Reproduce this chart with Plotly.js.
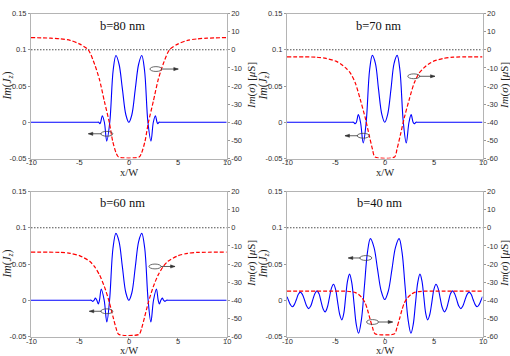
<!DOCTYPE html>
<html>
<head>
<meta charset="utf-8">
<script src="https://cdn.plot.ly/plotly-3.0.1.min.js"></script>
<style>
  html, body { margin: 0; padding: 0; background: #fff; }
  #myPlot { width: 510px; height: 356px; }
</style>
</head>
<body>
<div id="myPlot"></div>
<script>
// tick values / labels (MATLAB style, plain hyphen)
const xTicks = [-10, -5, 0, 5, 10];
const xTickText = ['-10', '-5', '0', '5', '10'];
const jTicks = [-0.05, 0, 0.05, 0.1, 0.15];
const jTickText = ['-0.05', '0', '0.05', '0.1', '0.15'];
const sTicks = [-60, -50, -40, -30, -20, -10, 0, 10, 20];
const sTickText = ['-60', '-50', '-40', '-30', '-20', '-10', '0', '10', '20'];

const bLabels = ['b=80 nm', 'b=70 nm', 'b=60 nm', 'b=40 nm'];

// dotted reference line, Im(sigma) = 0
const refX = [-10, 10];
const refY = [0, 0];

// b = 80 nm
const j80X = [-10, -3.3, -3.08, -2.97, -2.88, -2.71, -2.5, -2.26, -1.95, -1.6, -1.32, -1.0, -0.66, -0.3, 0,
  0.3, 0.66, 1.0, 1.32, 1.6, 1.95, 2.26, 2.5, 2.71, 2.88, 2.97, 3.08, 3.3, 10];
const j80Y = [0, 0, 0, -0.002, 0, 0.009, 0, -0.026, 0, 0.072, 0.092, 0.080, 0.046, 0.010, 0,
  0.010, 0.046, 0.080, 0.092, 0.072, 0, -0.026, 0, 0.009, 0, -0.002, 0, 0, 0];
const s80X = [-10, -8, -7, -6, -5, -4.15, -3.5, -3.0, -2.5, -2.0, -1.65, -1.3, -1.05,
  1.05, 1.3, 1.65, 2.0, 2.5, 3.0, 3.5, 4.15, 5, 6, 7, 8, 10];
const s80Y = [6.7, 6.4, 6.0, 5.2, 3.1, 0, -8, -16.5, -28.5, -40, -50.5, -57, -59.2,
  -59.2, -57, -50.5, -40, -28.5, -16.5, -8, 0, 3.1, 5.2, 6.0, 6.4, 6.7];

// b = 70 nm
const j70X = [-10, -3.4, -3.2, -3.02, -2.9, -2.7, -2.48, -2.2, -1.9, -1.55, -1.27, -0.95, -0.64, -0.3, 0,
  0.3, 0.64, 0.95, 1.27, 1.55, 1.9, 2.2, 2.48, 2.7, 2.9, 3.02, 3.2, 3.4, 10];
const j70Y = [0, 0, 0, -0.002, 0, 0.0105, 0, -0.0285, 0, 0.072, 0.0923, 0.081, 0.046, 0.011, 0,
  0.011, 0.046, 0.081, 0.0923, 0.072, 0, -0.0285, 0, 0.0105, 0, -0.002, 0, 0, 0];
const s70X = [-10, -7, -6, -5, -4.5, -4, -3.5, -3, -2.5, -2, -1.6, -1.25, -1.0,
  1.0, 1.25, 1.6, 2, 2.5, 3, 3.5, 4, 4.5, 5, 6, 7, 10];
const s70Y = [-3.9, -4.1, -4.8, -6.3, -7.8, -10, -13, -18.5, -27.5, -37.5, -47, -55, -59.2,
  -59.2, -55, -47, -37.5, -27.5, -18.5, -13, -10, -7.8, -6.3, -4.8, -4.1, -3.9];

// b = 60 nm
const j60X = [-10, -4.1, -3.85, -3.68, -3.55, -3.42, -3.27, -3.12, -3.0, -2.82, -2.52, -2.25, -1.97, -1.62, -1.32, -1.0, -0.66, -0.3, 0,
  0.3, 0.66, 1.0, 1.32, 1.62, 1.97, 2.25, 2.52, 2.82, 3.0, 3.12, 3.27, 3.42, 3.55, 3.68, 3.85, 4.1, 10];
const j60Y = [0, 0, 0, -0.0015, 0, 0.003, 0, -0.005, 0, 0.0155, 0, -0.030, 0, 0.072, 0.0923, 0.081, 0.046, 0.010, 0,
  0.010, 0.046, 0.081, 0.0923, 0.072, 0, -0.030, 0, 0.0155, 0, -0.005, 0, 0.003, 0, -0.0015, 0, 0, 0];
const s60X = [-10, -7, -6, -5, -4, -3.5, -3, -2.5, -2, -1.6, -1.3, -1.05,
  1.05, 1.3, 1.6, 2, 2.5, 3, 3.5, 4, 5, 6, 7, 10];
const s60Y = [-13.5, -13.6, -14.1, -15.5, -18.5, -21.5, -26, -32.5, -41, -49.5, -55.5, -58.8,
  -58.8, -55.5, -49.5, -41, -32.5, -26, -21.5, -18.5, -15.5, -14.1, -13.6, -13.5];

// b = 40 nm
const j40X = [-10, -9.85, -9.65, -9.45, -9.25, -9.04, -8.84, -8.63, -8.42, -8.2, -7.99, -7.78, -7.57, -7.36, -7.14,
  -6.93, -6.72, -6.52, -6.31, -6.1, -5.89, -5.67, -5.46, -5.24, -5.03, -4.82, -4.6, -4.39, -4.19, -4.0, -3.8,
  -3.6, -3.37, -3.14, -2.91, -2.68, -2.38, -2.075, -1.77, -1.47, -1.1, -0.74, -0.37, 0,
  0.37, 0.74, 1.1, 1.47, 1.77, 2.075, 2.38, 2.68, 2.91, 3.14, 3.37, 3.6, 3.8, 4.0, 4.19, 4.39,
  4.6, 4.82, 5.03, 5.24, 5.46, 5.67, 5.89, 6.1, 6.31, 6.52, 6.72, 6.93, 7.14, 7.36, 7.57, 7.78,
  7.99, 8.2, 8.42, 8.63, 8.84, 9.04, 9.25, 9.45, 9.65, 9.85, 10];
const j40Y = [0.005, 0, -0.006, -0.009, -0.006, 0.001, 0.0082, 0.0112, 0.008, 0, -0.008, -0.0115, -0.0079, 0.0008, 0.0094,
  0.013, 0.0088, -0.0015, -0.0118, -0.016, -0.0104, 0.003, 0.0164, 0.022, 0.015, -0.0025, -0.020, -0.027, -0.018, 0.0045, 0.027,
  0.036, 0.024, -0.005, -0.0336, -0.0455, -0.026, 0.020, 0.066, 0.085, 0.073, 0.043, 0.013, 0.001,
  0.013, 0.043, 0.073, 0.085, 0.066, 0.020, -0.026, -0.0455, -0.0336, -0.005, 0.024, 0.036, 0.027, 0.0045, -0.018, -0.027,
  -0.020, -0.0025, 0.015, 0.022, 0.0164, 0.003, -0.0104, -0.016, -0.0118, -0.0015, 0.0088, 0.013, 0.0094, 0.0008, -0.0079, -0.0115,
  -0.008, 0, 0.008, 0.0112, 0.0082, 0.001, -0.006, -0.009, -0.006, 0, 0.005];
const s40X = [-10, -4, -3.5, -3, -2.7, -2.35, -2, -1.75, -1.5, -1.25, -1.0,
  1.0, 1.25, 1.5, 1.75, 2, 2.35, 2.7, 3, 3.5, 4, 10];
const s40Y = [-35, -35, -35.2, -35.8, -36.7, -38.5, -41.5, -45.5, -50.5, -55, -58.5,
  -58.5, -55, -50.5, -45.5, -41.5, -38.5, -36.7, -35.8, -35.2, -35, -35];

const jxSets = [j80X, j70X, j60X, j40X];
const jySets = [j80Y, j70Y, j60Y, j40Y];
const sxSets = [s80X, s70X, s60X, s40X];
const sySets = [s80Y, s70Y, s60Y, s40Y];

// marker ellipses + arrows: [ellipse cx, cy(left axis), arrow tip x, arrow length px]
const bluePointer = [[-2.25, -0.0159, -4.14, 13], [-2.2, -0.0186, -4.07, 13], [-2.25, -0.0152, -4.04, 12], [-1.94, 0.0583, -3.73, 12]];
const redPointer = [[2.77, 0.0734, 5.05, 16], [2.97, 0.0634, 5.14, 16], [2.67, 0.0466, 4.72, 14], [-1.25, -0.030, 0.81, 14]];
const labelPos = [[-0.6, 0.1328], [-0.59, 0.1328], [-0.6, 0.134], [-0.49, 0.134]];

// panel placement in pixels (plot boxes)
const W = 510, H = 356;
const colPx = [[31, 226.7], [287, 482.5]];
const rowPx = [[13.5, 158.5], [191.5, 336.5]];
const rightTitleGap = [24.3, 21.5];
const xTitleGap = [14, 14];

const serif = 'Liberation Serif, Times New Roman, serif';
const sans = 'Liberation Sans, Arial, sans-serif';
const lineCol = '#b4b4b4';

var data = [];
var layout = {
  width: W, height: H,
  margin: {l: 0, r: 0, t: 0, b: 0},
  paper_bgcolor: '#fff', plot_bgcolor: '#fff',
  showlegend: false,
  annotations: [],
  shapes: []
};

for (var i = 0; i < 4; i++) {
  var col = i % 2, row = Math.floor(i / 2);
  var xid = i ? 'x' + (i + 1) : 'x';
  var yl = 'y' + (2 * i + 1 === 1 ? '' : 2 * i + 1);
  var yr = 'y' + (2 * i + 2);
  var xName = 'xaxis' + (i ? i + 1 : '');
  var ylName = 'yaxis' + (2 * i + 1 === 1 ? '' : 2 * i + 1);
  var yrName = 'yaxis' + (2 * i + 2);

  var xd = [colPx[col][0] / W, colPx[col][1] / W];
  var yd = [1 - rowPx[row][1] / H, 1 - rowPx[row][0] / H];

  var tf = {family: sans, size: 7.5, color: '#333'};
  // x tick labels are drawn as annotations just below, to sit close to the axis
  layout[xName] = {
    domain: xd, anchor: yl, range: [-10, 10],
    tickvals: xTicks, ticks: 'outside', ticklen: 2, tickcolor: '#999', showticklabels: false,
    showline: true, linecolor: lineCol, linewidth: 1, mirror: true,
    showgrid: false, zeroline: false
  };
  layout[ylName] = {
    domain: yd, anchor: xid, range: [-0.05, 0.15],
    tickvals: jTicks, ticktext: jTickText, ticks: 'outside', ticklen: 2, tickcolor: '#999',
    showline: true, linecolor: lineCol, linewidth: 1,
    showgrid: false, zeroline: false, tickfont: tf
  };
  layout[yrName] = {
    overlaying: yl, side: 'right', anchor: xid, range: [-60, 20],
    tickvals: sTicks, ticktext: sTickText, ticks: 'outside', ticklen: 2, tickcolor: '#999',
    showline: true, linecolor: lineCol, linewidth: 1,
    showgrid: false, zeroline: false, tickfont: tf
  };

  for (var t = 0; t < xTicks.length; t++) {
    layout.annotations.push({
      x: xTicks[t], xref: xid, y: 1 - (rowPx[row][1] + 4.5) / H, yref: 'paper',
      xanchor: 'center', yanchor: 'middle', showarrow: false,
      text: xTickText[t], font: tf
    });
  }

  // blue current
  data.push({
    x: jxSets[i], y: jySets[i], xaxis: xid, yaxis: yl, mode: 'lines',
    line: {color: '#0000ff', width: 1.1, shape: 'spline', smoothing: 1}
  });
  // dotted zero of Im(sigma)
  data.push({
    x: refX, y: refY, xaxis: xid, yaxis: yr, mode: 'lines',
    line: {color: '#222', width: 0.8, dash: '1.5px,1.5px'}
  });
  // red conductivity
  data.push({
    x: sxSets[i], y: sySets[i], xaxis: xid, yaxis: yr, mode: 'lines',
    line: {color: '#ff0000', width: 1.2, dash: '4px,2px', shape: 'spline', smoothing: 0.7}
  });

  // panel label
  layout.annotations.push({
    x: labelPos[i][0], y: labelPos[i][1], xref: xid, yref: yl, text: bLabels[i],
    xanchor: 'center', yanchor: 'middle',
    showarrow: false, font: {family: serif, size: 12.5, color: '#111'}
  });

  // axis titles (pixel placed)
  var cx = (colPx[col][0] + colPx[col][1]) / 2;
  var cy = (rowPx[row][0] + rowPx[row][1]) / 2;
  layout.annotations.push({
    x: (colPx[col][0] - 23.5) / W, y: 1 - cy / H, xref: 'paper', yref: 'paper',
    xanchor: 'center', yanchor: 'middle',
    text: '<i>Im</i>(<i>J<sub>z</sub></i>)', textangle: -90, showarrow: false,
    font: {family: serif, size: 11.5, color: '#222'}
  });
  layout.annotations.push({
    x: (colPx[col][1] + rightTitleGap[col]) / W, y: 1 - cy / H, xref: 'paper', yref: 'paper',
    xanchor: 'center', yanchor: 'middle',
    text: '<i>Im</i>(<i>σ</i>) [<i>μ</i>S]', textangle: -90, showarrow: false,
    font: {family: serif, size: 11, color: '#222'}
  });
  layout.annotations.push({
    x: cx / W, y: 1 - (rowPx[row][1] + xTitleGap[row]) / H, xref: 'paper', yref: 'paper',
    xanchor: 'center', yanchor: 'middle',
    text: 'x/W', showarrow: false,
    font: {family: serif, size: 10.5, color: '#222'}
  });

  // ellipses with arrows, sized in pixels around data anchors
  var pts = [[bluePointer[i], -1], [redPointer[i], 1]];
  for (var k = 0; k < 2; k++) {
    var p = pts[k][0], dir = pts[k][1];
    layout.shapes.push({
      type: 'circle', xref: xid, yref: yl,
      xsizemode: 'pixel', ysizemode: 'pixel', xanchor: p[0], yanchor: p[1],
      x0: -6, x1: 6, y0: -2.4, y1: 2.4,
      line: {color: '#444', width: 0.8}
    });
    layout.shapes.push({
      type: 'line', xref: xid, yref: yl,
      xsizemode: 'pixel', ysizemode: 'pixel', xanchor: p[2], yanchor: p[1],
      x0: -dir * p[3], x1: 0, y0: 0, y1: 0,
      line: {color: '#333', width: 0.8}
    });
    layout.shapes.push({
      type: 'path', xref: xid, yref: yl,
      xsizemode: 'pixel', ysizemode: 'pixel', xanchor: p[2], yanchor: p[1],
      path: 'M0,0 L' + (-dir * 4.5) + ',1.6 L' + (-dir * 4.5) + ',-1.6 Z',
      fillcolor: '#333', line: {color: '#333', width: 0.5}
    });
  }
}

Plotly.newPlot('myPlot', data, layout, {staticPlot: true});
</script>
</body>
</html>
